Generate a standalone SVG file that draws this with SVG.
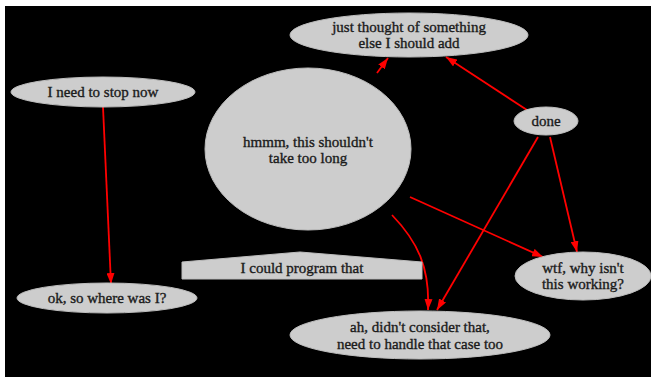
<svg xmlns="http://www.w3.org/2000/svg" width="651" height="382" viewBox="0 0 651 382">
<defs>
<marker id="ah" markerUnits="userSpaceOnUse" markerWidth="11" markerHeight="8" refX="11" refY="4" orient="auto"><path d="M0,0 L11,4 L0,8 z" fill="#ff0000"/></marker>
<style>
.n{fill:#cdcdcd;stroke:#bdbdbd;stroke-width:1}
text{font-family:"Times New Roman","Liberation Serif",serif;font-size:15px;fill:#1a1a1a;text-anchor:middle;stroke:#1a1a1a;stroke-width:0.35}
.e{fill:none;stroke:#ff0000;stroke-width:1.8;marker-end:url(#ah)}
</style>
</defs>
<rect x="0" y="0" width="651" height="382" fill="#ffffff"/>
<rect x="5" y="6" width="646" height="371" fill="#000000"/>
<g id="connectors">
<path class="e" d="M103,107 L111,284"/>
<path class="e" d="M377,73 L388,58"/>
<path class="e" d="M527,110 L446,57"/>
<path class="e" d="M550,137 L577,252"/>
<path class="e" d="M538,137 L437,310"/>
<path class="e" d="M410,197 L543,257"/>
<path class="e" d="M392,215 C418,242 430,268 428,310"/>
</g>
<g id="n-just">
<ellipse class="n" cx="409" cy="35" rx="119" ry="22"/>
<text x="409" y="32">just thought of something</text>
<text x="409" y="48">else I should add</text>
</g>
<g id="n-stop">
<ellipse class="n" cx="103" cy="92" rx="92" ry="15"/>
<text x="103" y="97">I need to stop now</text>
</g>
<g id="n-hmmm">
<ellipse class="n" cx="308" cy="149" rx="103" ry="81"/>
<text x="308" y="147">hmmm, this shouldn't</text>
<text x="308" y="163">take too long</text>
</g>
<g id="n-done">
<ellipse class="n" cx="546" cy="121" rx="32" ry="14"/>
<text x="546" y="126">done</text>
</g>
<g id="n-program">
<polygon class="n" points="182,262 300,252 422,262 422,279 182,279"/>
<text x="302" y="273">I could program that</text>
</g>
<g id="n-where">
<ellipse class="n" cx="107" cy="298" rx="90" ry="15"/>
<text x="107" y="303">ok, so where was I?</text>
</g>
<g id="n-wtf">
<ellipse class="n" cx="583" cy="276" rx="68" ry="24"/>
<text x="583" y="273">wtf, why isn't</text>
<text x="583" y="289">this working?</text>
</g>
<g id="n-ah">
<ellipse class="n" cx="420" cy="335" rx="130" ry="24"/>
<text x="420" y="332">ah, didn't consider that,</text>
<text x="420" y="349">need to handle that case too</text>
</g>
</svg>
